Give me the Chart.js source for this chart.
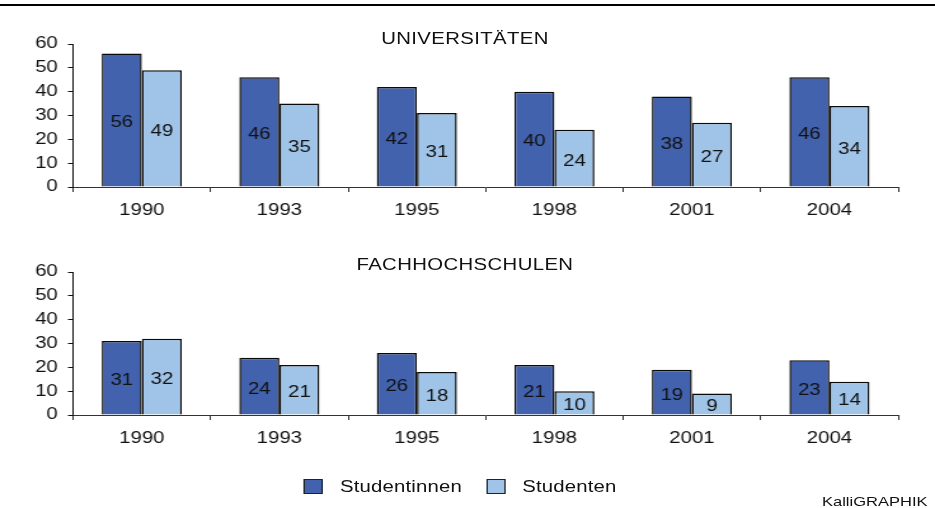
<!DOCTYPE html>
<html>
<head>
<meta charset="utf-8">
<script src="https://cdn.jsdelivr.net/npm/chart.js@4"></script>
<style>
  html, body { margin:0; padding:0; background:#fff; overflow:hidden; }
  body { width:935px; height:508px; position:relative; font-family:'Liberation Sans', Arial, sans-serif; color:#111; }
  #topline { position:absolute; left:0; top:4px; width:935px; height:2px; background:#000; }
  #wrap { position:absolute; left:0; top:0; width:736px; height:508px; transform:scaleX(1.2704); transform-origin:0 0; }
  canvas { position:absolute; left:0; }
  .title { position:absolute; left:266px; width:200px; text-align:center; font-size:16px; line-height:16px; white-space:nowrap; letter-spacing:0.3px; }
  .leg { position:absolute; font-size:16px; line-height:16px; white-space:nowrap; letter-spacing:0.15px; }
  .sw { position:absolute; width:13px; height:13px; border:1px solid #222; }
  #credit { position:absolute; left:647px; top:495px; font-size:13px; line-height:13px; white-space:nowrap; }
</style>
</head>
<body>
<div id="topline"></div>
<div id="wrap">
  <canvas id="c1" width="736" height="210" style="top:20px"></canvas>
  <canvas id="c2" width="736" height="210" style="top:248px"></canvas>
  <div class="title" style="top:31px">UNIVERSITÄTEN</div>
  <div class="title" style="top:257px">FACHHOCHSCHULEN</div>
  <div id="legend"></div>
  <div id="credit">KalliGRAPHIK</div>
</div>
<script>
const categories = ['1990', '1993', '1995', '1998', '2001', '2004'];
const uniStudentinnen = [56, 46, 42, 40, 38, 46];
const uniStudenten    = [49, 35, 31, 24, 27, 34];
const fhStudentinnen  = [31, 24, 26, 21, 19, 23];
const fhStudenten     = [32, 21, 18, 10,  9, 14];
const seriesNames = ['Studentinnen', 'Studenten'];
const yTicks = [0, 10, 20, 30, 40, 50, 60];

const DARK = '#4262ad';
const LIGHT = '#9fc4e8';
const FONT = "'Liberation Sans', Arial, sans-serif";

const valueLabels = {
  id: 'valueLabels',
  afterDatasetsDraw(chart) {
    const ctx = chart.ctx;
    ctx.save();
    ctx.font = '16px ' + FONT;
    ctx.fillStyle = '#111';
    ctx.textAlign = 'center';
    ctx.textBaseline = 'middle';
    chart.data.datasets.forEach((ds, i) => {
      chart.getDatasetMeta(i).data.forEach((el, j) => {
        ctx.fillText(String(ds.data[j]), el.x, (el.y + el.base) / 2 + 3);
      });
    });
    ctx.restore();
  }
};

function makeChart(id, a, b) {
  return new Chart(document.getElementById(id), {
    type: 'bar',
    data: {
      labels: categories,
      datasets: [
        { label: seriesNames[0], data: a, backgroundColor: DARK },
        { label: seriesNames[1], data: b, backgroundColor: LIGHT }
      ]
    },
    options: {
      responsive: false,
      animation: false,
      layout: { padding: { top: 24, right: 29, left: 0, bottom: 0 } },
      datasets: { bar: { barPercentage: 1, categoryPercentage: 0.582, borderWidth: 1.5, borderColor: '#0a0a0a' } },
      plugins: { legend: { display: false }, tooltip: { enabled: false }, title: { display: false } },
      scales: {
        x: {
          grid: { display: true, drawOnChartArea: false, drawTicks: true, tickLength: 5, color: '#333', offset: true },
          border: { display: true, color: '#333', width: 1 },
          ticks: { font: { family: FONT, size: 16 }, color: '#111', padding: 9, maxRotation: 0 },
          afterFit: s => { s.height = 43; }
        },
        y: {
          min: 0, max: 60,
          afterBuildTicks: s => { s.ticks = yTicks.map(v => ({ value: v })); },
          ticks: { font: { family: FONT, size: 16 }, color: '#111', padding: 8 },
          grid: { display: true, drawOnChartArea: false, drawTicks: true, tickLength: 4, color: '#111' },
          border: { display: true, color: '#111', width: 1 },
          afterFit: s => { s.width = 57.5; }
        }
      }
    },
    plugins: [valueLabels]
  });
}

makeChart('c1', uniStudentinnen, uniStudenten);
makeChart('c2', fhStudentinnen, fhStudenten);

// legend
const legend = document.getElementById('legend');
const legItems = [
  { name: seriesNames[0], color: DARK, sw: 238.5, tx: 267.6 },
  { name: seriesNames[1], color: LIGHT, sw: 382.6, tx: 411 }
];
legItems.forEach(it => {
  const s = document.createElement('div');
  s.className = 'sw';
  s.style.left = it.sw + 'px';
  s.style.top = '479px';
  s.style.background = it.color;
  legend.appendChild(s);
  const t = document.createElement('div');
  t.className = 'leg';
  t.style.left = it.tx + 'px';
  t.style.top = '479px';
  t.textContent = it.name;
  legend.appendChild(t);
});
</script>
</body>
</html>
